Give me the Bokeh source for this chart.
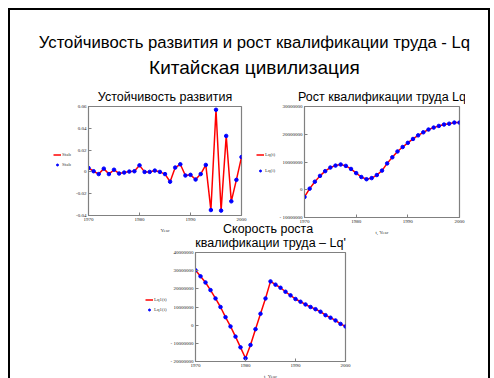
from bokeh.plotting import figure
from bokeh.models import Range1d, Legend, LegendItem, FixedTicker, Spacer
from bokeh.layouts import column, row
from bokeh.core.properties import value
from bokeh.embed import file_html
from bokeh.resources import INLINE

# ---------------- data ----------------
years = list(range(1970, 2001))

stab = [0.0036, 0.0006, -0.0020, 0.0030, -0.0020, 0.0020, -0.0015, -0.0006, 0.0003, 0.0006,
        0.0060, 0.0000, 0.0000, 0.0012, 0.0000, -0.0020, -0.0090, 0.0040, 0.0070, -0.0033,
        -0.0027, -0.0070, -0.0020, 0.0064, -0.0350, 0.0570, -0.0355, 0.0330, -0.0270, -0.0073,
        0.0136]

lq = [-2.6e6, 0.4e6, 2.9e6, 5.0e6, 6.7e6, 8.0e6, 8.7e6, 9.1e6, 8.6e6, 7.5e6,
      6.0e6, 4.6e6, 3.8e6, 4.2e6, 5.3e6, 6.9e6, 9.5e6, 11.7e6, 13.8e6, 15.4e6,
      16.9e6, 18.3e6, 19.6e6, 20.7e6, 21.7e6, 22.4e6, 23.0e6, 23.5e6, 23.8e6, 24.2e6,
      24.2e6]

lq1 = [30.2e6, 26.9e6, 23.5e6, 19.3e6, 14.7e6, 10.0e6, 4.4e6, -0.7e6, -6.3e6, -12.2e6,
       -18.2e6, -10.9e6, -2.2e6, 6.3e6, 14.7e6, 24.1e6, 22.3e6, 20.6e6, 18.4e6, 16.4e6,
       14.4e6, 12.9e6, 11.4e6, 10.0e6, 8.8e6, 7.4e6, 5.5e6, 4.1e6, 2.6e6, 0.7e6,
       -0.7e6]

x_ticks = [1970, 1980, 1990, 2000]
x_tick_labels = ["1970", "1980", "1990", "2000"]

stab_ticks = [-0.04, -0.02, 0, 0.02, 0.04, 0.06]
stab_tick_labels = ["-0.04", "-0.02", "0", "0.02", "0.04", "0.06"]

lq_ticks = [-10000000, 0, 10000000, 20000000, 30000000]
lq_tick_labels = ["- 10000000", "0", "10000000", "20000000", "30000000"]

lq1_ticks = [-20000000, -10000000, 0, 10000000, 20000000, 30000000, 40000000]
lq1_tick_labels = ["- 20000000", "- 10000000", "0", "10000000", "20000000", "30000000", "40000000"]

main_title_1 = "Устойчивость развития и рост квалификации труда - Lq"
main_title_2 = "Китайская цивилизация"
title_1 = "Устойчивость развития"
title_2 = "Рост квалификации труда Lq"
title_3 = "\u00a0" * 8 + "Скорость роста\nквалификации труда – Lq'"

SANS = "Liberation Sans"
SERIF = "Liberation Serif"
RED = "#FF0000"
BLUE = "#0000FF"
FRAME = "#808080"
NAN = float("nan")


def legend_fig(labels, width, height, loc, spacing):
    f = figure(output_backend="svg", toolbar_location=None, width=width, height=height,
               x_range=Range1d(0, 1), y_range=Range1d(0, 1), min_border=0,
               outline_line_color=None, border_fill_alpha=0, background_fill_alpha=0)
    f.axis.visible = False
    f.grid.visible = False
    ln = f.line(x=[NAN], y=[NAN], line_color=RED, line_width=1.5)
    sc = f.scatter(x=[NAN], y=[NAN], size=3.5, fill_color=BLUE, line_color=BLUE)
    lg = Legend(items=[LegendItem(label=labels[0], renderers=[ln]),
                       LegendItem(label=labels[1], renderers=[sc])],
                location=loc, orientation="vertical",
                label_text_font=SERIF, label_text_font_size="5px",
                label_height=5, glyph_width=8, glyph_height=5, label_standoff=1,
                spacing=spacing, padding=0, margin=0,
                border_line_alpha=0, background_fill_alpha=0)
    f.add_layout(lg, "center")
    return f


def chart(title, ys, ylim, yticks, ylabels, xlabel, fw, fh, bl):
    p = figure(output_backend="svg", toolbar_location=None,
               frame_width=fw, frame_height=fh,
               x_range=Range1d(1970, 2000), y_range=Range1d(*ylim),
               min_border_left=bl, min_border_right=6, min_border_top=0,
               min_border_bottom=18, background_fill_color="white",
               border_fill_alpha=0, outline_line_color=FRAME,
               outline_line_width=1.2)
    p.title.text = title
    p.title.align = "center"
    p.title.text_font = SANS
    p.title.text_font_style = "normal"
    p.title.text_font_size = "12.5px"
    p.title.text_line_height = 1.0
    p.title.text_color = "black"
    p.title.standoff = 5
    p.grid.visible = False
    for ax in (p.xaxis[0], p.yaxis[0]):
        ax.axis_line_color = FRAME
        ax.major_tick_line_color = FRAME
        ax.major_tick_in = 3
        ax.major_tick_out = 0
        ax.minor_tick_line_color = None
        ax.major_label_text_font = SERIF
        ax.major_label_text_font_size = "5px"
        ax.major_label_text_color = "#222222"
        ax.major_label_standoff = 2
    p.xaxis.ticker = FixedTicker(ticks=x_ticks)
    p.xaxis.major_label_overrides = dict(zip(x_ticks, x_tick_labels))
    p.yaxis.ticker = FixedTicker(ticks=yticks)
    p.yaxis.major_label_overrides = dict(zip(yticks, ylabels))
    p.xaxis.axis_label = xlabel
    p.xaxis.axis_label_text_font = SERIF
    p.xaxis.axis_label_text_font_style = "normal"
    p.xaxis.axis_label_text_font_size = "5px"
    p.xaxis.axis_label_standoff = 4

    p.line(years, ys, line_color=RED, line_width=1.5)
    p.scatter(years, ys, size=3.5, fill_color=BLUE, line_color=BLUE)
    return p


header = figure(output_backend="svg", toolbar_location=None, width=482, height=75,
                x_range=Range1d(0, 482), y_range=Range1d(75, 0),
                min_border=0, outline_line_color=None)
header.axis.visible = False
header.grid.visible = False
header.text(x=[246, 246], y=[32, 57], text=[main_title_1, main_title_2],
            text_font=value(SANS), text_font_size=["16.7px", "19px"],
            text_align="center", text_baseline="middle", text_color="black")

c1 = chart(title_1, stab, (-0.04, 0.06), stab_ticks, stab_tick_labels,
           "Year", 153, 109, 11)
c2 = chart(title_2, lq, (-10000000, 30000000), lq_ticks, lq_tick_labels,
           "t, Year", 155, 111, 27)
c3 = chart(title_3, lq1, (-20000000, 40000000),
           lq1_ticks, lq1_tick_labels, "t, Year", 150, 109, 27)

l1 = legend_fig(["Stab", "Stab"], 20, 150, (0, 48), 5)
l2 = legend_fig(["Lq(t)", "Lq(i)"], 20, 150, (0, 42), 11)
l3 = legend_fig(["Lq1(t)", "Lq1(i)"], 22, 150, (0, 35), 5)

row2 = row(Spacer(width=43, height=1), l1, c1, Spacer(width=9, height=1), l2, c2)
row3 = row(Spacer(width=135, height=1), l3, c3, margin=(-20, 0, 0, 0))

layout = column(header, row2, row3, width=482, margin=(8, 0, 0, 8),
                styles={"border-left": "2px solid black", "border-top": "2px solid black",
                        "border-right": "2px solid black"})

open("out.html", "w").write(file_html(layout, INLINE))
